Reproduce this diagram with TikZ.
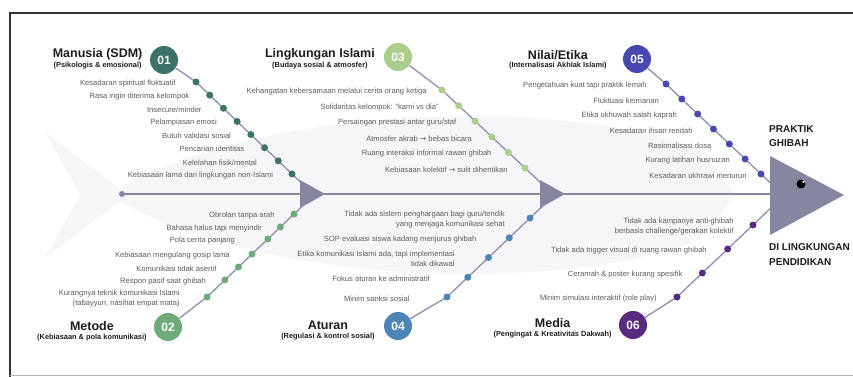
\documentclass[tikz,border=0pt]{standalone}
\usepackage{fontspec}
\setmainfont{Liberation Sans}
\newfontfamily\dejavu{DejaVu Sans}
\newcommand{\toarrow}{{\dejavu\char"2192}}
\definecolor{spinegray}{RGB}{134,134,162}
\definecolor{bonegray}{RGB}{142,142,176}
\definecolor{ghost}{RGB}{246,246,249}
\definecolor{causegray}{RGB}{92,92,92}
\definecolor{ink}{RGB}{28,28,28}
\definecolor{manusia}{RGB}{62,113,104}
\definecolor{metode}{RGB}{110,170,122}
\definecolor{lingkungan}{RGB}{170,206,140}
\definecolor{aturan}{RGB}{78,133,183}
\definecolor{nilai}{RGB}{72,72,176}
\definecolor{media}{RGB}{88,42,128}
\usetikzlibrary{positioning}

\tikzset{
  num/.style={circle, fill=#1, text=white, minimum size=28pt, inner sep=0pt,
    font=\bfseries\fontsize{12}{12}\selectfont},
  cdot/.style={circle, fill=#1, minimum size=7pt, inner sep=0pt},
  bone/.style={draw=bonegray, line width=1.3pt},
  cause/.style={text=causegray, align=right, inner sep=1pt, yshift=-1.5pt,
    font=\fontsize{7.6}{10.5}\selectfont},
  ttl/.style={text=ink, inner sep=0pt, font=\bfseries\fontsize{12.5}{14}\selectfont},
  sub/.style={text=ink, inner sep=0pt, font=\bfseries\fontsize{7.4}{9}\selectfont},
  headtxt/.style={text=ink, align=left, inner sep=0pt,
    font=\bfseries\fontsize{10}{14.5}\selectfont},
}

\begin{document}
\begin{tikzpicture}[x=1pt, y=-1pt]
  \useasboundingbox (0,0) rectangle (853,377);

  % faint fish in the back
  \fill[ghost] (110,195) .. controls (250,105) and (560,95) .. (700,150)
    -- (735,195) -- (700,240) .. controls (560,295) and (250,285) .. (110,195) -- cycle;
  \fill[ghost] (45,132) -- (128,195) -- (45,258) -- (80,195) -- cycle;

  % frame
  \draw[black!80, line width=1.6pt] (853,13) -- (10,13) -- (10,377);
  \draw[black!30, line width=1pt] (10,375.5) -- (853,375.5);

  % spine
  \node[cdot=spinegray, minimum size=6pt] (tail) at (122,194) {};
  \coordinate (head) at (772,194);
  \draw[spinegray, line width=1.8pt] (tail) -- (head);

  % categories
  \node[num=manusia] (c1) at (164,60) {01};
  \node[num=metode] (c2) at (168,327) {02};
  \node[num=lingkungan] (c3) at (398,57) {03};
  \node[num=aturan] (c4) at (398,326) {04};
  \node[num=nilai] (c5) at (637,59) {05};
  \node[num=media] (c6) at (633,325) {06};

  \node[sub, left=8pt of c1, yshift=-6pt] (s1) {(Psikologis \& emosional)};
  \node[ttl, above=2pt of s1] (t1) {Manusia (SDM)};
  \node[sub, left=7pt of c2, yshift=-11pt] (s2) {(Kebiasaan \& pola komunikasi)};
  \node[ttl, above=4pt of s2] (t2) {Metode};
  \node[sub, left=16pt of c3, yshift=-9pt] (s3) {(Budaya sosial \& atmosfer)};
  \node[ttl, above=2pt of s3] (t3) {Lingkungan Islami};
  \node[sub, left=9pt of c4, yshift=-11pt] (s4) {(Regulasi \& kontrol sosial)};
  \node[ttl, above=4pt of s4] (t4) {Aturan};
  \node[sub, left=16pt of c5, yshift=-7pt] (s5) {(Internalisasi Akhlak Islami)};
  \node[ttl, above=2pt of s5] (t5) {Nilai/Etika};
  \node[sub, left=7pt of c6, yshift=-10pt] (s6) {(Pengingat \& Kreativitas Dakwah)};
  \node[ttl, above=4pt of s6] (t6) {Media};

  % bones: circle -> first dot -> under the arrowhead
  \coordinate (f1) at (196,82);  \coordinate (e1) at (305.7,187.1);
  \coordinate (f2) at (207,297); \coordinate (e2) at (308.5,200.2);
  \coordinate (f3) at (442,90);  \coordinate (e3) at (541.6,183.6);
  \coordinate (f4) at (447,297); \coordinate (e4) at (550.8,198.3);
  \coordinate (f5) at (666,84);  \coordinate (e5) at (776.8,189);
  \coordinate (f6) at (677,297); \coordinate (e6) at (778.3,201);
  \foreach \i in {1,...,6}
    \draw[bone] (c\i) -- (f\i) -- (e\i);

  % arrowheads and head
  \fill[spinegray] (300,180) -- (325,194) -- (300,208) -- cycle;
  \fill[spinegray] (540,180) -- (565,194) -- (540,208) -- cycle;
  \fill[spinegray] (770,156) -- (844,195) -- (770,235) -- cycle;
  \fill[black] (801,184) circle (4.5);
  \fill[white] (803.5,181.8) circle (1.3);

  \node[headtxt, anchor=west] (h1) at (769,136) {PRAKTIK\\GHIBAH};
  \node[headtxt, anchor=west] (h2) at (769,254.5) {DI LINGKUNGAN\\PENDIDIKAN};

  % Manusia
  \foreach \gap/\txt [count=\idx from 0] in {15.5pt/Kesadaran spiritual fluktuatif,
      15.5pt/Rasa ingin diterima kelompok, 17pt/{Insecure/minder},
      15.5pt/Pelampiasan emosi, 15pt/Butuh validasi sosial,
      15.5pt/Pencarian identitas, 16.5pt/{Kelelahan fisik/mental},
      14pt/Kebiasaan lama dari lingkungan non-Islami} {
    \pgfmathsetmacro\tpos{\idx/8}
    \path (f1) -- (e1) node[cdot=manusia, pos=\tpos] (d1\idx) {};
    \node[cause, left=\gap of d1\idx] {\txt};
  }

  % Metode (dots not evenly spaced)
  \foreach \tpos/\gap/\txt [count=\idx from 0] in {
      0/22.5pt/{Kurangnya teknik komunikasi Islami\\(tabayyun, nasihat empat mata)},
      0.176/14pt/Respon pasif saat ghibah, 0.31/17pt/Komunikasi tidak asertif,
      0.444/17.5pt/Kebiasaan mengulang gosip lama, 0.599/28pt/Pola cerita panjang,
      0.723/13.5pt/Bahasa halus tapi menyindir, 0.857/14.5pt/Obrolan tanpa arah} {
    \path (f2) -- (e2) node[cdot=metode, pos=\tpos] (d2\idx) {};
    \node[cause, left=\gap of d2\idx] {\txt};
  }

  % Lingkungan Islami
  \foreach \gap/\txt [count=\idx from 0] in {
      10.5pt/Kehangatan kebersamaan melalui cerita orang ketiga,
      15pt/Solidaritas kelompok: “kami vs dia”,
      14pt/{Persaingan prestasi antar guru/staf},
      15pt/Atmosfer akrab \toarrow{} bebas bicara,
      12pt/Ruang interaksi informal rawan ghibah,
      12.5pt/Kebiasaan kolektif \toarrow{} sulit dihentikan} {
    \pgfmathsetmacro\tpos{\idx/6}
    \path (f3) -- (e3) node[cdot=lingkungan, pos=\tpos] (d3\idx) {};
    \node[cause, left=\gap of d3\idx] {\txt};
  }

  % Aturan
  \foreach \gap/\txt [count=\idx from 0] in {32.5pt/Minim sanksi sosial,
      33pt/Fokus aturan ke administratif,
      29pt/{Etika komunikasi Islami ada, tapi implementasi\\tidak dikawal},
      28pt/SOP evaluasi siswa kadang menjurus ghibah,
      20.5pt/{Tidak ada sistem penghargaan bagi guru/tendik\\yang menjaga komunikasi sehat}} {
    \pgfmathsetmacro\tpos{\idx/5}
    \path (f4) -- (e4) node[cdot=aturan, pos=\tpos] (d4\idx) {};
    \node[cause, left=\gap of d4\idx] {\txt};
  }

  % Nilai/Etika
  \foreach \gap/\txt [count=\idx from 0] in {14.5pt/Pengetahuan kuat tapi praktik lemah,
      18pt/Fluktuasi keimanan, 16pt/Etika ukhuwah salah kaprah,
      16pt/Kesadaran ihsan rendah, 13pt/Rasionalisasi dosa,
      10.5pt/Kurang latihan husnuzan, 9.5pt/Kesadaran ukhrawi menurun} {
    \pgfmathsetmacro\tpos{\idx/7}
    \path (f5) -- (e5) node[cdot=nilai, pos=\tpos] (d5\idx) {};
    \node[cause, left=\gap of d5\idx] {\txt};
  }

  % Media
  \foreach \gap/\txt [count=\idx from 0] in {15.5pt/Minim simulasi interaktif (role play),
      15pt/Ceramah \& poster kurang spesifik,
      16pt/Tidak ada trigger visual di ruang rawan ghibah,
      14.5pt/{Tidak ada kampanye anti-ghibah\\berbasis challenge/gerakan kolektif}} {
    \pgfmathsetmacro\tpos{\idx/4}
    \path (f6) -- (e6) node[cdot=media, pos=\tpos] (d6\idx) {};
    \node[cause, left=\gap of d6\idx] {\txt};
  }

\end{tikzpicture}
\end{document}
